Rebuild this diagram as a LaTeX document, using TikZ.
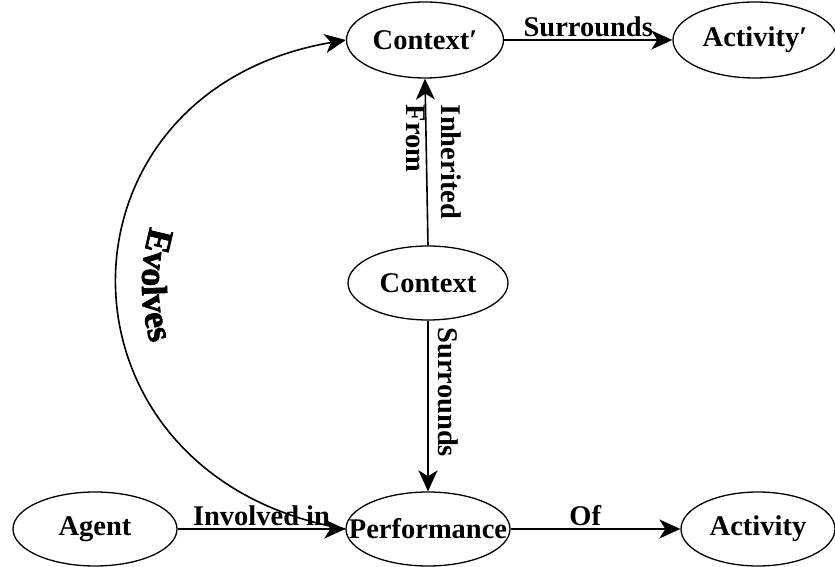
\documentclass[tikz,border=0pt]{standalone}
\usepackage{fontspec}
\setmainfont{Liberation Serif}
\newfontfamily\evfont[FakeBold=2]{Liberation Serif}
\usetikzlibrary{arrows.meta,shapes.geometric}
\newcommand{\zbox}[1]{\makebox[0pt]{#1}}
\begin{document}
\begin{tikzpicture}[x=1pt,y=1pt,
  concept/.style={draw, ellipse, line width=1.3pt, inner sep=0pt,
    minimum width=160pt, minimum height=74pt,
    font=\fontsize{28.5}{35}\selectfont\bfseries},
  rel/.style={line width=1.6pt, -{Stealth[length=21pt,width=19pt,inset=6pt]}},
  lbl/.style={font=\fontsize{28.5}{35}\selectfont\bfseries, inner sep=2pt},
  evl/.style={font=\evfont\fontsize{36}{42}\selectfont\bfseries, inner sep=0pt, anchor=base}
]
\useasboundingbox (0,0) rectangle (835,567);
\node[concept, minimum width=157pt, minimum height=76pt] (ctxp) at (425,527) {\zbox{Context′}};
\node[concept, minimum width=164pt, minimum height=76pt] (actp) at (755,527) {\zbox{Activity′}};
\node[concept] (ctx) at (428,284) {\zbox{Context}};
\node[concept, minimum width=164pt] (agent) at (95,38) {\zbox{Agent}};
\node[concept, minimum width=164pt] (perf) at (428,38) {\zbox{Performance}};
\node[concept, minimum width=154pt] (act) at (758,38) {\zbox{Activity}};

\draw[rel] (ctxp.east) -- node[lbl, anchor=south] {Surrounds} (actp.west);
\draw[rel] (ctx.north) -- node[lbl, xshift=7pt, rotate=-90, align=left, inner sep=0pt] {Inherited\\From} (ctxp.south);
\draw[rel] (ctx.south) -- node[lbl, pos=0.42, rotate=-90, anchor=south, inner sep=9pt] {Surrounds} (perf.north);
\draw[rel] (agent.east) -- node[lbl, anchor=south] {Involved in} (perf.west);
\draw[rel] (perf.east) -- node[lbl, pos=0.44, anchor=south] {Of} (act.west);
\draw[rel] (perf.west) .. controls +(-304,52) and +(-305,-52) .. (ctxp.west);

% "Evolves" set letter by letter along the arc
\node[evl, rotate=-103.3] (ev1) at (147.4,328.6) {E};
\node[evl, rotate=-97.3]  (ev2) at (143.7,307.8) {v};
\node[evl, rotate=-92.3]  (ev3) at (142.2,290.0) {o};
\node[evl, rotate=-88.3]  (ev4) at (142.1,276.0) {l};
\node[evl, rotate=-84.3]  (ev5) at (143.0,262.1) {v};
\node[evl, rotate=-79.5]  (ev6) at (145.4,245.2) {e};
\node[evl, rotate=-75.2]  (ev7) at (148.7,230.3) {s};
\end{tikzpicture}
\end{document}
